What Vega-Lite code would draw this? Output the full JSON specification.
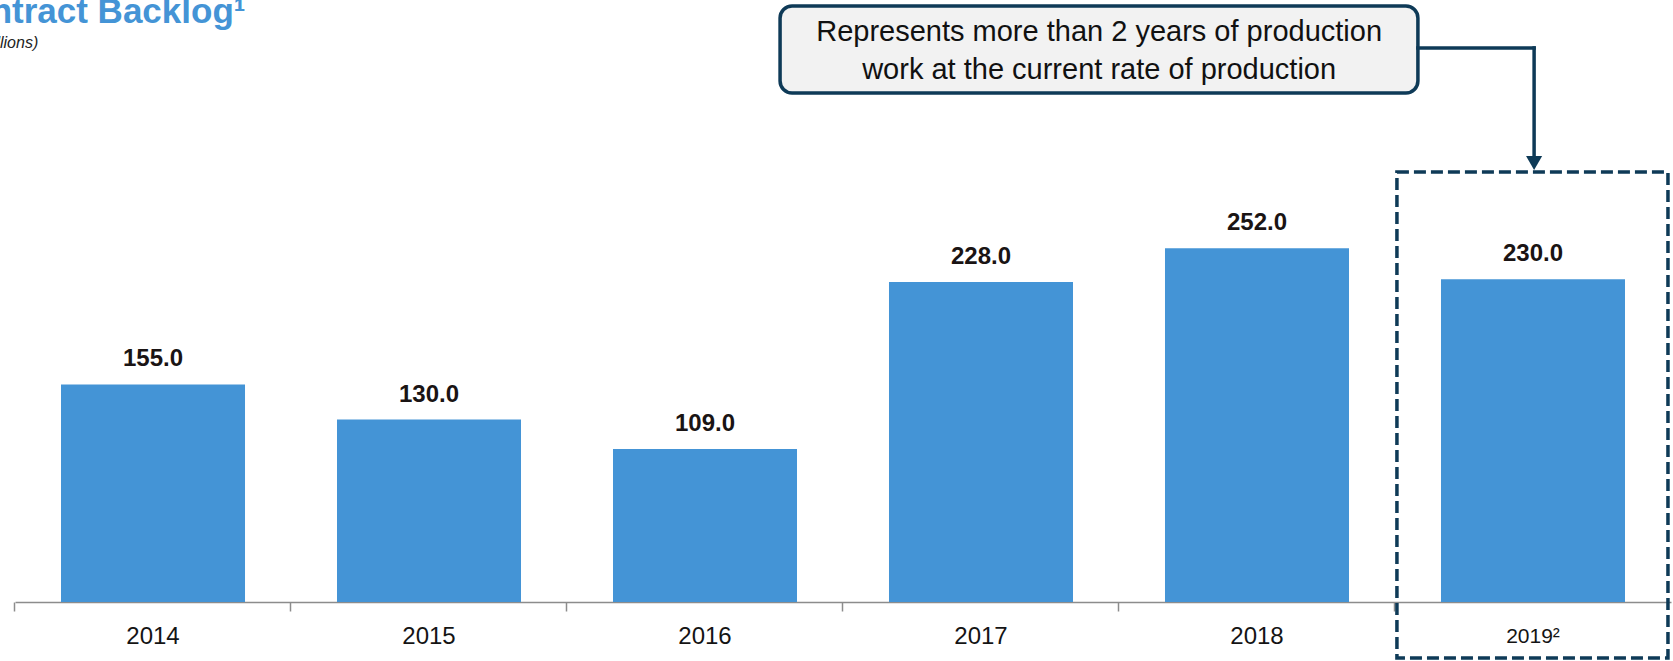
{
  "$schema": "https://vega.github.io/schema/vega-lite/v6.json",
  "autosize": "none",
  "width": 1656,
  "height": 421,
  "padding": {"left": 15, "top": 181, "right": 2, "bottom": 59},
  "background": "white",
  "config": {"view": {"stroke": null}},
  "title": {
    "text": "\u00a0Contract Backlog\u00b9",
    "subtitle": "($ in millions)",
    "anchor": "start",
    "frame": "group",
    "orient": "top",
    "offset": 0,
    "dx": -71,
    "dy": 46.5,
    "font": "Liberation Sans",
    "fontSize": 35,
    "fontWeight": "bold",
    "color": "#4494d6",
    "subtitleFont": "Liberation Sans",
    "subtitleFontSize": 16,
    "subtitleFontStyle": "italic",
    "subtitleColor": "#222222",
    "subtitlePadding": 5
  },
  "datasets": {
    "backlog": [
      {"year": "2014", "value": 155.0},
      {"year": "2015", "value": 130.0},
      {"year": "2016", "value": 109.0},
      {"year": "2017", "value": 228.0},
      {"year": "2018", "value": 252.0},
      {"year": "2019", "value": 230.0}
    ]
  },
  "resolve": {"scale": {"x": "independent"}, "axis": {"x": "independent"}},
  "layer": [
    {
      "data": {"name": "backlog"},
      "encoding": {
        "x": {
          "field": "year",
          "type": "nominal",
          "sort": null,
          "scale": {"paddingInner": 0.3333, "paddingOuter": 0.16667},
          "axis": {
            "orient": "bottom",
            "title": null,
            "bandPosition": -0.25,
            "domain": true,
            "domainColor": "#8c8c8c",
            "domainWidth": 1.5,
            "ticks": true,
            "tickSize": 9,
            "tickColor": "#8c8c8c",
            "tickWidth": 1.5,
            "grid": false,
            "labelAngle": 0,
            "labelAlign": "center",
            "labelFont": "Liberation Sans",
            "labelFontSize": {"condition": {"test": "datum.value == '2019'", "value": 21}, "value": 24},
            "labelColor": "#141414",
            "labelBaseline": "middle",
            "labelPadding": 25,
            "labelExpr": "datum.value == '2019' ? '2019\u00b2' : datum.label"
          }
        },
        "y": {
          "field": "value",
          "type": "quantitative",
          "scale": {"domain": [0, 300]},
          "axis": null
        }
      },
      "layer": [
        {"mark": {"type": "bar", "color": "#4494d6"}},
        {
          "mark": {
            "type": "text",
            "font": "Liberation Sans",
            "fontSize": 24,
            "fontWeight": "bold",
            "color": "#1a1414",
            "baseline": "alphabetic",
            "dy": -18
          },
          "encoding": {"text": {"field": "value", "type": "quantitative", "format": ".1f"}}
        }
      ]
    },
    {
      "data": {"values": [{}]},
      "layer": [
        {
          "mark": {
            "type": "rect",
            "fillOpacity": 0,
            "fill": "white",
            "stroke": "#0e3a57",
            "strokeWidth": 3.5,
            "strokeDash": [12, 5]
          },
          "encoding": {
            "x": {"datum": 5.007, "type": "quantitative", "scale": {"domain": [0, 6], "nice": false, "zero": false}, "axis": null},
            "x2": {"datum": 5.989},
            "y": {"datum": 306.4, "type": "quantitative", "scale": {"domain": [0, 300]}, "axis": null},
            "y2": {"datum": -39.9}
          }
        },
        {
          "mark": {
            "type": "rect",
            "cornerRadius": 12,
            "fill": "#f2f2f2",
            "stroke": "#0e3a57",
            "strokeWidth": 3.5
          },
          "encoding": {
            "x": {"datum": 2.772, "type": "quantitative", "scale": {"domain": [0, 6], "nice": false, "zero": false}, "axis": null},
            "x2": {"datum": 5.083},
            "y": {"datum": 424.7, "type": "quantitative", "scale": {"domain": [0, 300]}, "axis": null},
            "y2": {"datum": 362.7}
          }
        },
        {
          "mark": {
            "type": "text",
            "font": "Liberation Sans",
            "fontSize": 29,
            "color": "#111111",
            "align": "center",
            "baseline": "middle",
            "lineHeight": 38,
            "text": ["Represents more than 2 years of production", "work at the current rate of production"]
          },
          "encoding": {
            "x": {"datum": 3.928, "type": "quantitative", "scale": {"domain": [0, 6], "nice": false, "zero": false}, "axis": null},
            "y": {"datum": 406.2, "type": "quantitative", "scale": {"domain": [0, 300]}, "axis": null}
          }
        },
        {
          "mark": {"type": "rule", "color": "#0e3a57", "strokeWidth": 3.5, "strokeCap": "square"},
          "encoding": {
            "x": {"datum": 5.083, "type": "quantitative", "scale": {"domain": [0, 6], "nice": false, "zero": false}, "axis": null},
            "x2": {"datum": 5.504},
            "y": {"datum": 394.8, "type": "quantitative", "scale": {"domain": [0, 300]}, "axis": null}
          }
        },
        {
          "mark": {"type": "rule", "color": "#0e3a57", "strokeWidth": 3.5, "strokeCap": "square"},
          "encoding": {
            "x": {"datum": 5.504, "type": "quantitative", "scale": {"domain": [0, 6], "nice": false, "zero": false}, "axis": null},
            "y": {"datum": 394.8, "type": "quantitative", "scale": {"domain": [0, 300]}, "axis": null},
            "y2": {"datum": 315.0}
          }
        },
        {
          "mark": {"type": "point", "shape": "triangle-down", "filled": true, "color": "#0e3a57", "opacity": 1, "size": 260},
          "encoding": {
            "x": {"datum": 5.504, "type": "quantitative", "scale": {"domain": [0, 6], "nice": false, "zero": false}, "axis": null},
            "y": {"datum": 312.8, "type": "quantitative", "scale": {"domain": [0, 300]}, "axis": null}
          }
        }
      ]
    }
  ]
}
